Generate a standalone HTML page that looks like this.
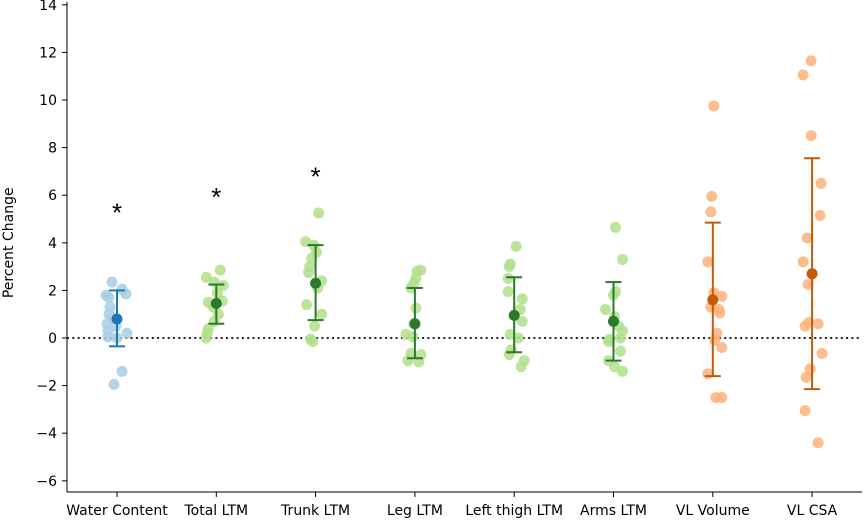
<!DOCTYPE html>
<html><head><meta charset="utf-8"><style>
body{margin:0;background:#fff;font-family:"DejaVu Sans","Liberation Sans",sans-serif}
svg text{font-family:"DejaVu Sans","Liberation Sans",sans-serif}
</style></head><body>
<svg id="chart" width="865" height="520" xmlns="http://www.w3.org/2000/svg"></svg>
<script>
const categories=["Water Content","Total LTM","Trunk LTM","Leg LTM","Left thigh LTM","Arms LTM","VL Volume","VL CSA"];
const points=[
[2.35,2.05,1.85,1.8,1.7,1.3,1.0,0.85,0.6,0.5,0.3,0.2,0.05,0.0,-1.4,-1.95],
[2.85,2.55,2.35,2.2,1.9,1.55,1.5,1.3,1.0,0.7,0.4,0.2,0.0],
[5.25,4.05,3.9,3.6,3.35,3.0,2.75,2.4,2.1,1.4,1.0,0.5,-0.05,-0.15],
[2.85,2.8,2.5,2.3,2.1,1.25,0.6,0.15,0.05,-0.65,-0.7,-0.95,-1.0],
[3.85,3.1,3.0,2.5,1.95,1.65,1.2,0.7,0.15,0.0,-0.5,-0.7,-0.95,-1.2],
[4.65,3.3,1.95,1.8,1.2,0.9,0.5,0.3,-0.05,0.0,-0.15,-0.55,-0.95,-1.2,-1.4],
[9.75,5.95,5.3,3.2,1.9,1.75,1.3,1.2,1.05,0.2,-0.1,-0.4,-1.5,-2.5,-2.5],
[11.65,11.05,8.5,6.5,5.15,4.2,3.2,2.25,0.65,0.6,0.5,-0.65,-1.3,-1.65,-3.05,-4.4]];
const jitter=[
[-5,5,9,-11,-8,-7,-8,-4,-10,-1,-9,10,-9,0,5,-3],
[4,-10,-2,7,1,6,-8,-3,2,-2,-8,-9,-10],
[3,-10,-2,1,-4,-6,-7,6,2,-9,6,-1,-5,-3],
[6,2,1,-1,-4,1,-1,-9,-2,-4,6,-7,4],
[2,-4,-5,-6,-6,8,6,8,-4,4,-3,-5,10,7],
[2,9,2,0,-8,1,5,9,-4,7,-5,7,-5,1,9],
[1,-1,-2,-5,1,9,-2,6,7,4,2,9,-5,3,9],
[-1,-9,-1,9,8,-5,-9,-4,-3,6,-7,10,-2,-6,-7,6]];
const means=[0.8,1.45,2.3,0.6,0.95,0.7,1.6,2.7];
const errLow=[-0.35,0.6,0.75,-0.85,-0.6,-0.95,-1.6,-2.15];
const errHigh=[2.0,2.25,3.9,2.1,2.55,2.35,4.85,7.55];
const stars=[5.45,6.1,6.95,null,null,null,null,null];
const groupLight=["#a6cee3","#b2df8a","#b2df8a","#b2df8a","#b2df8a","#b2df8a","#fdb27a","#fdb27a"];
const groupDark=["#1f78b4","#2a7a2e","#2a7a2e","#2a7a2e","#2a7a2e","#2a7a2e","#c45a08","#c45a08"];
const yTicks=[-6,-4,-2,0,2,4,6,8,10,12,14];

const svg=document.getElementById('chart');
const NS="http://www.w3.org/2000/svg";
const y=v=>338-v*23.8;
const x=i=>117+i*99.3;
function mk(t,a,p){const e=document.createElementNS(NS,t);for(const k in a)e.setAttribute(k,a[k]);(p||svg).appendChild(e);return e;}
let e;
e=mk('line',{x1:67,y1:2,x2:67,y2:492,stroke:'#000','stroke-width':1});


e=mk('line',{x1:67,y1:492,x2:862,y2:492,stroke:'#000','stroke-width':1});


yTicks.forEach(t=>{
 mk('line',{x1:62,x2:67,y1:y(t),y2:y(t),stroke:'#000'});
 e=mk('text',{x:57,y:y(t)+5,'text-anchor':'end','font-size':14});
 e.textContent=t<0?'\u2212'+(-t):t;
 
 
});
e=mk('text',{x:0,y:0,'text-anchor':'middle','font-size':14,transform:'translate(13,'+y(4)+') rotate(-90)'});
e.textContent='Percent Change';


e=mk('line',{x1:67,x2:862,y1:y(0),y2:y(0),stroke:'#222','stroke-width':2,'stroke-dasharray':'2,3.3'});


categories.forEach((c,i)=>{
 const cx=x(i);
 mk('line',{x1:cx,x2:cx,y1:492,y2:497,stroke:'#000'});
 e=mk('text',{x:cx,y:515,'text-anchor':'middle','font-size':14});
 e.textContent=c;
 
 
 points[i].forEach((v,j)=>{
  e=mk('circle',{cx:cx+jitter[i][j],cy:y(v),r:5.5,fill:groupLight[i],'fill-opacity':0.85});
  
  
 });
 const g=mk('g',{stroke:groupDark[i],'stroke-width':2});
 
 
 mk('line',{x1:cx,x2:cx,y1:y(errLow[i]),y2:y(errHigh[i])},g);
 mk('line',{x1:cx-8,x2:cx+8,y1:y(errLow[i]),y2:y(errLow[i])},g);
 mk('line',{x1:cx-8,x2:cx+8,y1:y(errHigh[i]),y2:y(errHigh[i])},g);
 e=mk('circle',{cx:cx,cy:y(means[i]),r:5.5,fill:groupDark[i]});
 
 
 if(stars[i]!==null){
  e=mk('text',{x:cx,y:y(stars[i])+13,'text-anchor':'middle','font-size':26,style:'font-family:"Liberation Sans",sans-serif'});
  e.textContent='*';
  
  
 }
});
</script>
</body></html>
